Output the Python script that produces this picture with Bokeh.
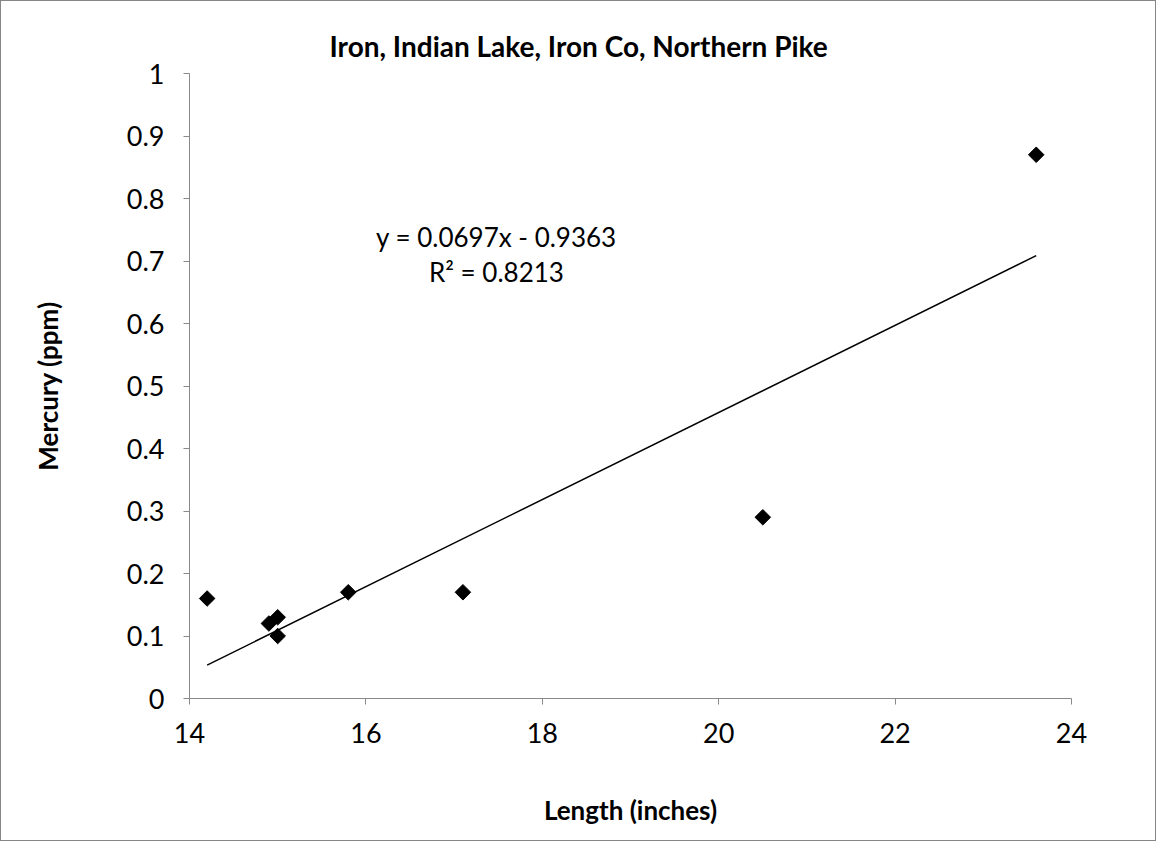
from bokeh.plotting import figure
from bokeh.models import FixedTicker, NumeralTickFormatter, Label, ColumnDataSource
from bokeh.embed import file_html
from bokeh.resources import INLINE
import numpy as np

# ---- data ----
length_in = [14.2, 14.9, 15.0, 15.0, 15.8, 17.1, 20.5, 23.6]
mercury_ppm = [0.16, 0.12, 0.13, 0.10, 0.17, 0.17, 0.29, 0.87]
trend_slope = 0.0697
trend_intercept = -0.9363
r_squared = 0.8213
x_ticks = [14, 16, 18, 20, 22, 24]
y_ticks = [0, 0.1, 0.2, 0.3, 0.4, 0.5, 0.6, 0.7, 0.8, 0.9, 1.0]
title_text = "Iron, Indian Lake, Iron Co, Northern Pike"
x_label = "Length (inches)"
y_label = "Mercury (ppm)"

FONT = "Lato"
AXIS_COLOR = "#898989"

p = figure(width=1156, height=841, x_range=(14, 24), y_range=(0, 1),
           output_backend="svg", toolbar_location=None,
           min_border_left=188, min_border_right=86,
           min_border_top=72, min_border_bottom=144)
p.styles = {"border": "1px solid #868686"}
p.outline_line_color = None
p.background_fill_color = "white"
p.border_fill_color = "white"
p.xgrid.visible = False
p.ygrid.visible = False

p.title.text = title_text
p.title.align = "left"
p.title.offset = 140
p.title.standoff = 22
p.title.text_font = FONT
p.title.text_font_style = "bold"
p.title.text_font_size = "28px"
p.title.text_color = "black"

for ax in (p.xaxis[0], p.yaxis[0]):
    ax.axis_line_color = AXIS_COLOR
    ax.major_tick_line_color = AXIS_COLOR
    ax.major_tick_out = 6
    ax.major_tick_in = 0
    ax.minor_tick_line_color = None
    ax.major_label_text_font = FONT
    ax.major_label_text_font_size = "27px"
    ax.major_label_text_color = "black"
    ax.axis_label_text_font = FONT
    ax.axis_label_text_font_style = "bold"
    ax.axis_label_text_font_size = "26px"
    ax.axis_label_text_color = "black"

p.xaxis.ticker = FixedTicker(ticks=x_ticks)
p.yaxis.ticker = FixedTicker(ticks=y_ticks)
p.yaxis.formatter = NumeralTickFormatter(format="0.[0]")
p.xaxis.major_label_standoff = 18
p.yaxis.major_label_standoff = 19
p.xaxis.axis_label = x_label
p.yaxis.axis_label = y_label
p.xaxis.axis_label_standoff = 48
p.yaxis.axis_label_standoff = 60

# trend line across the data range
tx = [min(length_in), max(length_in)]
ty = [trend_slope * v + trend_intercept for v in tx]
p.line(tx, ty, line_color="black", line_width=1.5)

src = ColumnDataSource(dict(x=length_in, y=mercury_ppm))
p.scatter("x", "y", source=src, marker="square", angle=np.pi / 4,
          size=11, fill_color="black", line_color="black")

eq1 = f"y = {trend_slope}x - {abs(trend_intercept)}"
eq2 = f"R² = {r_squared}"
p.add_layout(Label(x=17.48, y=0.7392, text=eq1, text_align="center",
                   text_baseline="middle", text_font=FONT,
                   text_font_size="26px", text_color="black"))
p.add_layout(Label(x=17.48, y=0.6832, text=eq2, text_align="center",
                   text_baseline="middle", text_font=FONT,
                   text_font_size="26px", text_color="black"))

open("out.html", "w").write(file_html(p, INLINE))
